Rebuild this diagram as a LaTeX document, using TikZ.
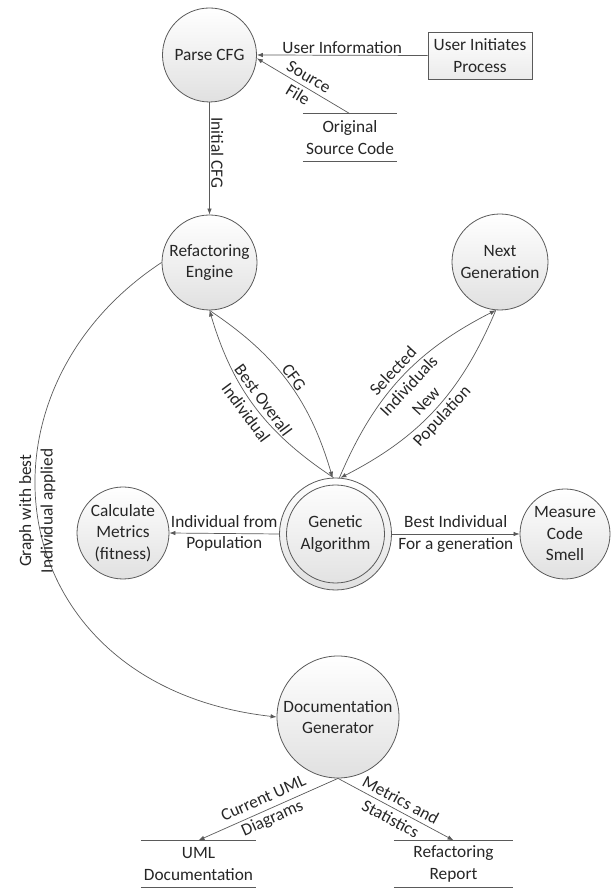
\documentclass[tikz,border=0pt]{standalone}
\usepackage{fontspec}
\setmainfont{Carlito}
\usetikzlibrary{arrows.meta}
\definecolor{ln}{HTML}{5A5A5A}
\definecolor{tx}{HTML}{262626}
\begin{document}
\begin{tikzpicture}[x=1pt,y=1pt,
  every node/.style={font=\fontsize{17.3}{21.5}\selectfont, text=tx, align=center},
  proc/.style={circle, draw=ln, line width=0.8pt, top color=white, bottom color=black!12, inner sep=0pt, minimum size=#1},
  ext/.style={rectangle, draw=ln, line width=0.8pt, top color=white, bottom color=black!8, minimum width=104pt, minimum height=47pt, inner sep=0pt},
  store/.style={minimum width=#1, minimum height=47pt, inner sep=0pt},
  storeline/.style={draw=ln, line width=0.8pt},
  flow/.style={draw=ln, line width=0.7pt, -{Latex[length=6pt,width=4.5pt]}},
  lab/.style={inner sep=1.5pt},
]
\useasboundingbox (0,0) rectangle (611,888);
% nodes
\node[proc=94pt] (pc) at (209.5,833) {Parse CFG};
\node[ext] (ui) at (480,832.5) {User Initiates\\Process};
\node[store=94pt] (osc) at (350,750.5) {Original\\Source Code};
\draw[storeline] (osc.north west) -- (osc.north east) (osc.south west) -- (osc.south east);
\node[proc=95pt] (re) at (209.5,625.5) {Refactoring\\Engine};
\node[proc=96pt] (ng) at (500,626) {Next\\Generation};
\node[proc=112pt] (ga) at (335.5,354) {Genetic\\Algorithm};
\draw[storeline] (ga.center) circle (49pt);
\node[proc=92pt] (cm) at (123,355) {Calculate\\Metrics\\(fitness)};
\node[proc=90pt] (mcs) at (565,354) {Measure\\Code\\Smell};
\node[proc=122pt] (dg) at (338,171) {Documentation\\Generator};
\node[store=115pt] (uml) at (198.5,24) {UML\\Documentation};
\draw[storeline] (uml.north west) -- (uml.north east) (uml.south west) -- (uml.south east);
\node[store=119pt] (rr) at (453.5,24) {Refactoring\\Report};
\draw[storeline] (rr.north west) -- (rr.north east) (rr.south west) -- (rr.south east);
% flows
\draw[flow] (ui.west) -- node[above, lab] {User Information} (pc.east);
\draw[flow] (osc.north) -- node[sloped, lab] {Source\\File} (pc.-4);
\draw[flow] (pc.south) -- node[pos=.45, sloped, above, lab] {Initial CFG} (re.north);
\draw[flow] (re.south) to[bend left=20] node[sloped, above, lab] {CFG} (ga.93);
\draw[flow] (ga.92) to[bend left=20] node[sloped, lab] {Best Overall\\Individual} (re.south);
\draw[flow] (ga.86) to[bend left=20] node[sloped, lab] {Selected\\Individuals} (ng.-95);
\draw[flow] (ng.-95) to[bend left=20] node[sloped, lab] {New\\Population} (ga.85);
\draw[flow] (ga.west) -- node[lab] {Individual from\\Population} (cm.east);
\draw[flow] (ga.east) -- node[lab] {Best Individual\\For a generation} (mcs.west);
\draw[flow] (re.west) .. controls (-40,493) and (1,202) .. node[pos=.47, rotate=90, lab] {Graph with best\\Individual applied} (dg.west);
\draw[flow] (dg.south) -- node[sloped, lab] {Current UML\\Diagrams} (uml.north);
\draw[flow] (dg.south) -- node[sloped, lab] {Metrics and\\Statistics} (rr.north);
\end{tikzpicture}
\end{document}
